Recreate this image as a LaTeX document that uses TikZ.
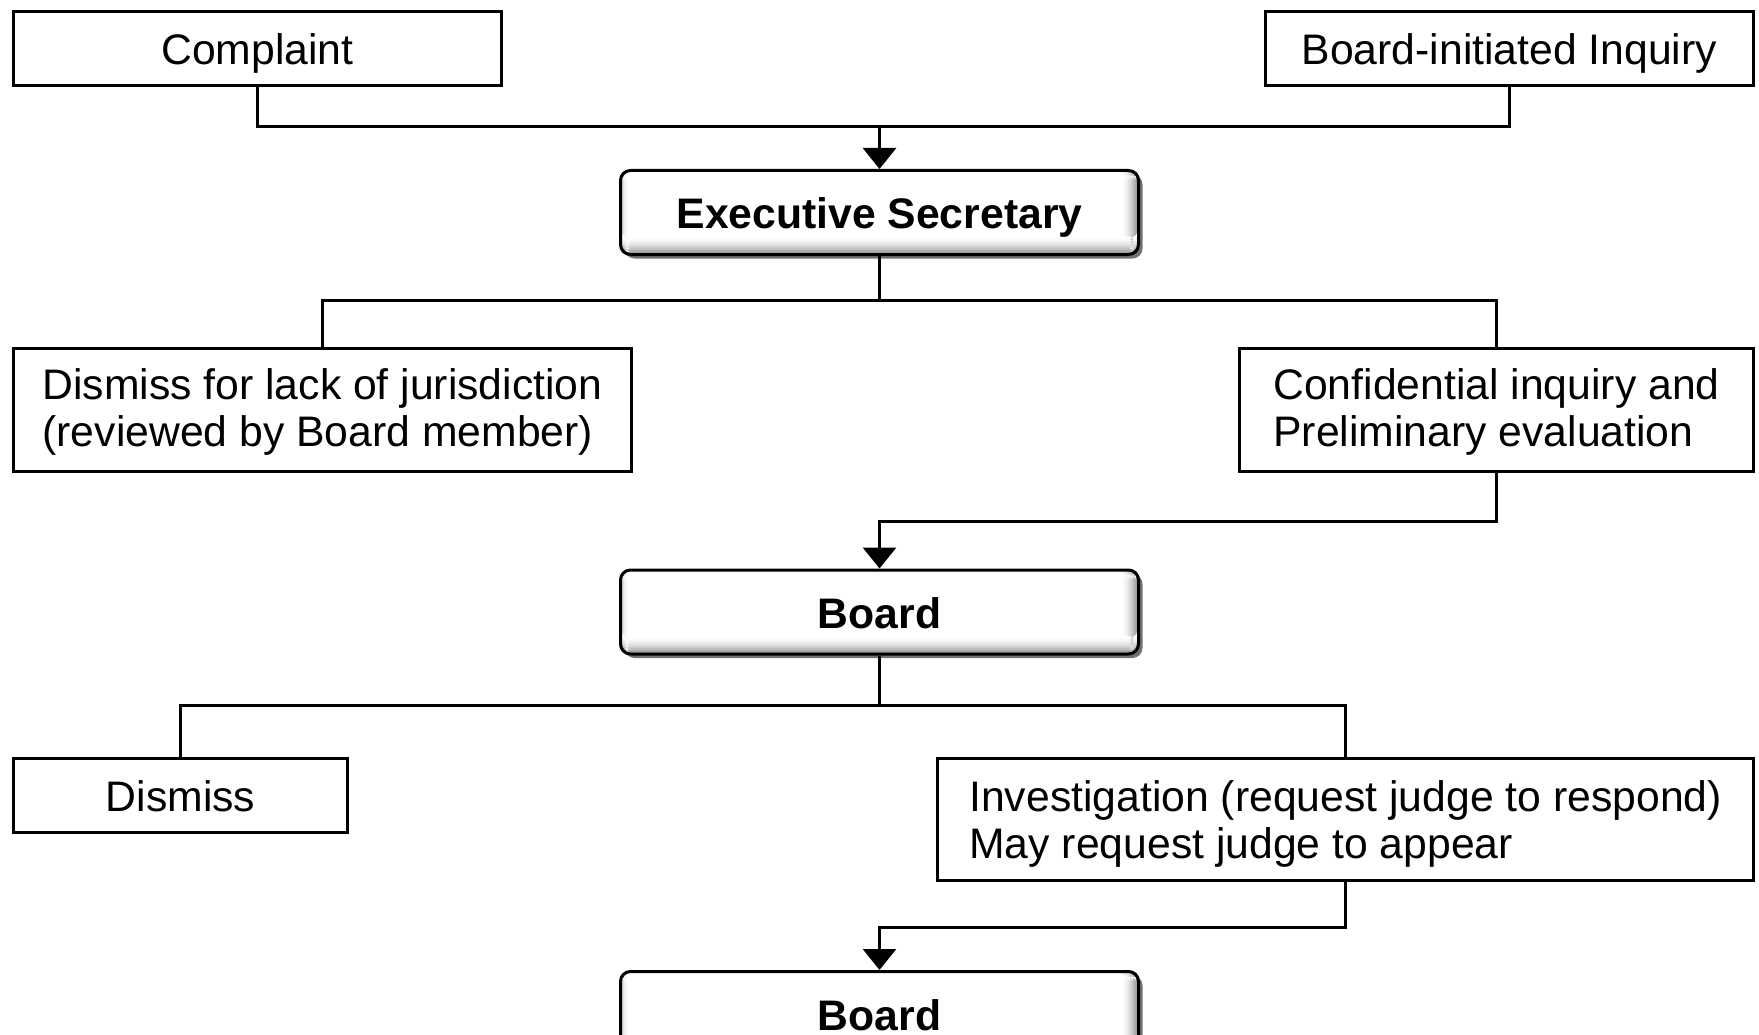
\documentclass[tikz,border=0pt]{standalone}
\usepackage{fontspec}
\setmainfont{Liberation Sans}
\usetikzlibrary{arrows.meta,shadows}
\tikzset{
  sqbox/.style={draw=black, line width=3pt, fill=white, inner sep=0pt, align=left,
    font=\fontsize{42.7}{47}\selectfont},
  oneline/.style={text height=33pt, text depth=0pt},
  rbox/.style={draw=black, line width=3pt, rounded corners=10pt, fill=white, inner sep=0pt,
    font=\fontsize{42.7}{47}\selectfont\bfseries, text height=33pt, text depth=0pt,
    drop shadow={shadow xshift=4pt, shadow yshift=-4pt, fill=black!65, opacity=0.85},
    path picture={
      \foreach \k in {0,...,11}{
        \pgfmathtruncatemacro{\c}{45*(\k+1)*(\k+1)/144}
        \fill[black!\c] ([xshift={-18pt+\k*1.5pt}]path picture bounding box.north east) rectangle ([xshift={-18pt+(\k+1)*1.5pt+0.3pt}]path picture bounding box.south east);
      }
      \foreach \k in {0,...,7}{
        \pgfmathtruncatemacro{\c}{22*(8-\k)*(8-\k)/64}
        \fill[black!\c] ([xshift={\k*1pt}]path picture bounding box.north west) rectangle ([xshift={(\k+1)*1pt+0.3pt}]path picture bounding box.south west);
      }
      \foreach \k in {0,...,11}{
        \pgfmathtruncatemacro{\c}{45*(\k+1)*(\k+1)/144}
        \fill[black!\c] ([yshift={18pt-\k*1.5pt}]path picture bounding box.south west) rectangle ([yshift={18pt-(\k+1)*1.5pt-0.3pt}]path picture bounding box.south east);
      }
    },
    minimum width=518pt, minimum height=84pt},
  conn/.style={line width=3pt, draw=black},
  arr/.style={conn, -{Triangle[width=33pt,length=21pt]}}
}
\begin{document}
\begin{tikzpicture}[x=1pt,y=-1pt]
\clip (0,0) rectangle (1759,1035);
\fill[white] (0,0) rectangle (1759,1035);
\useasboundingbox (0,0) rectangle (1759,1035);

\node[sqbox, oneline, minimum width=488pt, minimum height=74pt] (complaint) at (257.5,48.2) {Complaint};
\node[sqbox, oneline, minimum width=488pt, minimum height=74pt] (bi) at (1509.4,48.2) {Board-initiated Inquiry};
\node[rbox] (exec) at (879.5,212.5) {Executive Secretary};
\node[sqbox, text depth=4.5pt, minimum width=618pt, minimum height=123pt] (lack) at (322.5,409.5) {Dismiss for lack of jurisdiction\\(reviewed by Board member)};
\node[sqbox, text depth=4.5pt, minimum width=514pt, minimum height=123pt] (conf) at (1496.5,409.5) {Confidential inquiry and\\Preliminary evaluation};
\node[rbox] (board) at (879.5,612) {Board};
\node[sqbox, oneline, minimum width=334pt, minimum height=74pt] (dismiss) at (180.6,795.3) {Dismiss};
\node[sqbox, text depth=0pt, minimum width=816pt, minimum height=122pt] (invest) at (1345.6,819.5) {Investigation (request judge to respond)\\May request judge to appear};
\node[rbox] (board2) at (879.5,1013.5) {Board};

\coordinate (j1) at (879.5,126.8);
\coordinate (j2) at (879.5,300.6);
\coordinate (j3) at (879.5,521.6);
\coordinate (j4) at (879.5,705.6);
\coordinate (j5) at (879.5,927.7);

\draw[conn] (complaint.south) |- (j1) -| (bi.south);
\draw[arr] (j1) -- (exec.north);
\draw[conn] (exec.south) -- (j2);
\draw[conn] (lack.north) |- (j2) -| (conf.north);
\draw[arr] (conf.south) |- (j3) -- (board.north);
\draw[conn] (board.south) -- (j4);
\draw[conn] (dismiss.north) |- (j4) -| (invest.north);
\draw[arr] (invest.south) |- (j5) -- (board2.north);
\end{tikzpicture}
\end{document}
